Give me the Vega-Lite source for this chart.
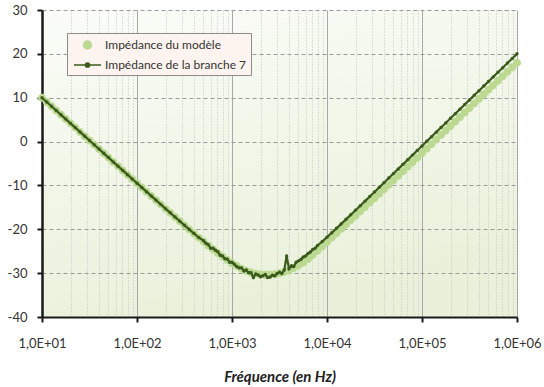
{
  "$schema": "https://vega.github.io/schema/vega-lite/v6.json",
  "width": 475,
  "height": 307,
  "autosize": {"type": "none"},
  "padding": {"left": 42, "top": 10, "right": 27, "bottom": 70},
  "background": "white",
  "config": {
    "view": {"stroke": null, "fill": {"gradient": "linear", "x1": 0, "y1": 0, "x2": 0.3, "y2": 1, "stops": [{"offset": 0, "color": "#fbfcf8"}, {"offset": 1, "color": "#e9f1da"}]}},
    "font": "Lato",
    "axis": {"labelFont": "Lato", "labelFontSize": 13, "labelColor": "#333333", "domainColor": "#1a1a1a", "tickColor": "#1a1a1a"}
  },
  "data": {"values": [
    {"f":10,"m":10.0,"b":10.0},{"f":11.22,"m":9.03,"b":9.03},{"f":12.59,"m":8.05,"b":8.05},{"f":14.13,"m":7.08,"b":7.08},
    {"f":15.85,"m":6.10,"b":6.10},{"f":17.78,"m":5.13,"b":5.13},{"f":19.95,"m":4.15,"b":4.15},{"f":22.39,"m":3.18,"b":3.18},
    {"f":25.12,"m":2.20,"b":2.20},{"f":28.18,"m":1.23,"b":1.23},{"f":31.62,"m":0.25,"b":0.25},{"f":35.48,"m":-0.73,"b":-0.73},
    {"f":39.81,"m":-1.70,"b":-1.70},{"f":44.67,"m":-2.68,"b":-2.68},{"f":50.12,"m":-3.65,"b":-3.65},{"f":56.23,"m":-4.63,"b":-4.63},
    {"f":63.10,"m":-5.60,"b":-5.60},{"f":70.79,"m":-6.58,"b":-6.58},{"f":79.43,"m":-7.55,"b":-7.55},{"f":89.13,"m":-8.53,"b":-8.53},
    {"f":100,"m":-9.49,"b":-9.49},{"f":112.2,"m":-10.45,"b":-10.45},{"f":125.9,"m":-11.42,"b":-11.42},{"f":141.3,"m":-12.39,"b":-12.39},
    {"f":158.5,"m":-13.36,"b":-13.36},{"f":177.8,"m":-14.32,"b":-14.32},{"f":199.5,"m":-15.29,"b":-15.29},{"f":223.9,"m":-16.25,"b":-16.25},
    {"f":251.2,"m":-17.20,"b":-17.20},{"f":281.8,"m":-18.16,"b":-18.15},{"f":316.2,"m":-19.11,"b":-19.09},{"f":354.8,"m":-20.05,"b":-20.03},
    {"f":398.1,"m":-20.98,"b":-20.96},{"f":446.7,"m":-21.90,"b":-21.88},{"f":501.2,"m":-22.81,"b":-22.6},{"f":530.9,"b":-23.2},
    {"f":562.3,"m":-23.70,"b":-23.5},{"f":595.7,"b":-24.3},{"f":631.0,"m":-24.57,"b":-24.3},{"f":668.3,"b":-24.8},
    {"f":707.9,"m":-25.42,"b":-25.1},{"f":749.9,"b":-25.9},{"f":794.3,"m":-26.23,"b":-26.1},{"f":841.4,"b":-26.7},
    {"f":891.3,"m":-27.00,"b":-26.8},{"f":944.1,"b":-27.5},{"f":1000,"m":-27.73,"b":-27.5},{"f":1059,"b":-28.0},
    {"f":1122,"m":-28.39,"b":-28.5},{"f":1189,"b":-28.8},{"f":1259,"m":-28.97,"b":-28.8},{"f":1334,"b":-29.5},
    {"f":1413,"m":-29.47,"b":-29.3},{"f":1496,"b":-29.9},{"f":1585,"m":-29.87,"b":-29.9},{"f":1679,"b":-31.0},
    {"f":1778,"m":-30.14,"b":-30.2},{"f":1884,"b":-30.4},{"f":1995,"m":-30.29,"b":-30.8},{"f":2114,"b":-30.6},
    {"f":2239,"m":-30.35,"b":-30.3},{"f":2371,"b":-31.0},{"f":2512,"m":-30.35,"b":-30.9},{"f":2661,"b":-30.5},
    {"f":2818,"m":-30.25,"b":-30.6},{"f":2985,"b":-30.1},{"f":3162,"m":-30.05,"b":-29.8},{"f":3350,"b":-30.1},
    {"f":3548,"m":-29.75,"b":-29.3},{"f":3758,"b":-26.1},{"f":3981,"m":-29.35,"b":-29.0},{"f":4217,"b":-28.3},
    {"f":4467,"m":-28.85,"b":-28.5},{"f":4732,"b":-27.5},{"f":5012,"m":-28.25,"b":-27.2},{"f":5309,"b":-26.9},
    {"f":5623,"m":-27.55,"b":-26.3},{"f":5957,"b":-26.1},{"f":6310,"m":-26.75,"b":-25.5},{"f":6683,"b":-25.2},
    {"f":7079,"m":-25.85,"b":-24.6},{"f":7499,"b":-24.3},{"f":7943,"m":-24.9,"b":-23.7},{"f":8913,"m":-23.9,"b":-22.78},
    {"f":10000,"m":-22.9,"b":-21.79},{"f":11220,"m":-21.9,"b":-20.79},{"f":12590,"m":-20.9,"b":-19.78},{"f":14130,"m":-19.9,"b":-18.76},
    {"f":15850,"m":-18.9,"b":-17.73},{"f":17780,"m":-17.9,"b":-16.69},{"f":19950,"m":-16.9,"b":-15.66},{"f":22390,"m":-15.9,"b":-14.62},
    {"f":25120,"m":-14.9,"b":-13.58},{"f":28180,"m":-13.9,"b":-12.53},{"f":31620,"m":-12.9,"b":-11.49},{"f":35480,"m":-11.9,"b":-10.44},
    {"f":39810,"m":-10.89,"b":-9.39},{"f":44670,"m":-9.84,"b":-8.32},{"f":50120,"m":-8.82,"b":-7.28},{"f":56230,"m":-7.78,"b":-6.23},
    {"f":63100,"m":-6.76,"b":-5.19},{"f":70790,"m":-5.73,"b":-4.14},{"f":79430,"m":-4.70,"b":-3.09},{"f":89130,"m":-3.67,"b":-2.04},
    {"f":100000,"m":-2.64,"b":-1.0},{"f":112200,"m":-1.61,"b":0.05},{"f":125900,"m":-0.58,"b":1.1},{"f":141300,"m":0.45,"b":2.15},
    {"f":158500,"m":1.49,"b":3.2},{"f":177800,"m":2.52,"b":4.25},{"f":199500,"m":3.55,"b":5.3},{"f":223900,"m":4.58,"b":6.35},
    {"f":251200,"m":5.61,"b":7.4},{"f":281800,"m":6.65,"b":8.45},{"f":316200,"m":7.68,"b":9.5},{"f":354800,"m":8.71,"b":10.55},
    {"f":398100,"m":9.74,"b":11.6},{"f":446700,"m":10.77,"b":12.65},{"f":501200,"m":11.81,"b":13.7},{"f":562300,"m":12.84,"b":14.75},
    {"f":631000,"m":13.87,"b":15.8},{"f":707900,"m":14.90,"b":16.85},{"f":794300,"m":15.94,"b":17.9},{"f":891300,"m":16.97,"b":18.95},
    {"f":1000000,"m":18.0,"b":20.0}
  ]},
  "layer": [
    {
      "mark": {"type": "point", "filled": true, "size": 196, "opacity": 1},
      "encoding": {
        "x": {"field": "f", "type": "quantitative",
          "scale": {"type": "log", "domain": [10, 1000000], "nice": false},
          "axis": {
            "title": "Fréquence (en Hz)", "titleFont": "Lato", "titleFontSize": 15, "titleFontWeight": "bold", "titleFontStyle": "italic", "titleColor": "#222222", "titlePadding": 19,
            "values": [10,20,30,40,50,60,70,80,90,100,200,300,400,500,600,700,800,900,1000,2000,3000,4000,5000,6000,7000,8000,9000,10000,20000,30000,40000,50000,60000,70000,80000,90000,100000,200000,300000,400000,500000,600000,700000,800000,900000,1000000],
            "labelExpr": "abs(log(datum.value)/LN10 - round(log(datum.value)/LN10)) < 0.001 ? '1,0E+0' + round(log(datum.value)/LN10) : ''",
            "labelPadding": 15, "labelFlush": false, "labelOverlap": false, "labelBound": false,
            "grid": true,
            "gridColor": {"condition": {"test": "abs(log(datum.value)/LN10 - round(log(datum.value)/LN10)) < 0.001", "value": "#a8a8a8"}, "value": "#c2c2c2"},
            "gridDash": {"condition": {"test": "abs(log(datum.value)/LN10 - round(log(datum.value)/LN10)) < 0.001", "value": []}, "value": [1, 2]},
            "gridWidth": 1,
            "tickSize": 5, "tickWidth": 2,
            "tickOpacity": {"condition": {"test": "abs(log(datum.value)/LN10 - round(log(datum.value)/LN10)) < 0.001", "value": 1}, "value": 0},
            "domainWidth": 2
          }
        },
        "y": {"field": "m", "type": "quantitative",
          "scale": {"domain": [-40, 30], "nice": false},
          "axis": {"title": null, "values": [-40,-30,-20,-10,0,10,20,30], "labelExpr": "'' + datum.value",
            "grid": true, "gridColor": "#9a9a9a", "gridDash": [4, 3], "tickSize": 5, "tickWidth": 2, "domainWidth": 2.5, "labelPadding": 10}
        },
        "color": {"datum": "Impédance du modèle",
          "scale": {"domain": ["Impédance du modèle", "Impédance de la branche 7"], "range": ["#bcd991", "#3b5b1c"]},
          "legend": {"title": null, "orient": "none", "legendX": 25, "legendY": 23, "padding": 4, "fillColor": "#fdf4ef", "strokeColor": "#8c8c8c",
            "labelFont": "Lato", "labelFontSize": 12, "labelColor": "#333333", "rowPadding": 5, "symbolOffset": 8.5, "labelOffset": 9.5, "symbolSize": 196, "labelLimit": 300,
            "encode": {"symbols": {"update": {"fill": {"scale": "color", "field": "value"}, "stroke": {"scale": "color", "field": "value"}, "strokeWidth": {"value": 1.2}, "shape": {"scale": "shape", "field": "value"}, "size": {"value": 196}, "opacity": {"value": 1}}}}}
        },
        "shape": {"datum": "Impédance du modèle",
          "scale": {"domain": ["Impédance du modèle", "Impédance de la branche 7"], "range": ["M-0.57,0A0.57,0.57 0 1,1 0.57,0A0.57,0.57 0 1,1 -0.57,0Z", "M-1.93,0H1.93M-0.3,0A0.3,0.3 0 1,1 0.3,0A0.3,0.3 0 1,1 -0.3,0Z"]},
          "legend": {"title": null, "orient": "none", "legendX": 25, "legendY": 23, "padding": 4, "fillColor": "#fdf4ef", "strokeColor": "#8c8c8c",
            "labelFont": "Lato", "labelFontSize": 12, "labelColor": "#333333", "rowPadding": 5, "symbolOffset": 8.5, "labelOffset": 9.5, "symbolSize": 196, "labelLimit": 300,
            "encode": {"symbols": {"update": {"fill": {"scale": "color", "field": "value"}, "stroke": {"scale": "color", "field": "value"}, "strokeWidth": {"value": 1.2}, "shape": {"scale": "shape", "field": "value"}, "size": {"value": 196}, "opacity": {"value": 1}}}}}
        }
      }
    },
    {
      "mark": {"type": "line", "strokeWidth": 2.2, "point": {"filled": true, "size": 12, "opacity": 1}},
      "encoding": {
        "x": {"field": "f", "type": "quantitative"},
        "y": {"field": "b", "type": "quantitative"},
        "color": {"datum": "Impédance de la branche 7"}
      }
    }
  ]
}
